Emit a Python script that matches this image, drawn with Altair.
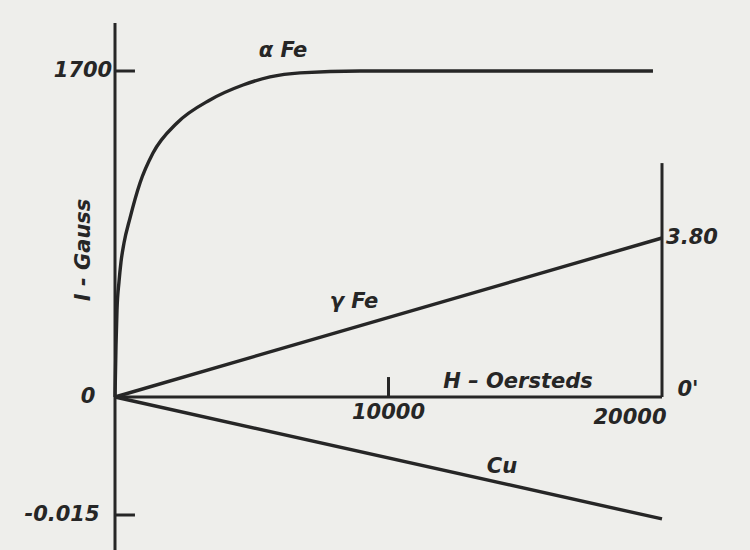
import altair as alt
import pandas as pd

# ---- data -------------------------------------------------------------
# alpha-iron magnetisation curve (I in gauss vs H in oersteds)
H_ALPHA = [0, 37, 73, 146, 219, 329, 548, 914, 1389, 2267, 3473, 4680, 5667, 6764, 8957, 19670]
I_ALPHA = [0, 271, 454, 600, 704, 803, 933, 1116, 1272, 1429, 1549, 1627, 1669, 1690, 1700, 1700]

# gamma-iron (paramagnetic, right-hand scale)
H_GAMMA = [0, 20000]
I_GAMMA = [0, 3.80]

# copper (diamagnetic, lower left scale)
H_CU = [0, 20000]
I_CU = [0, -0.0155]

# ---- layout of the three vertical scales -------------------------------
W, HT = 750, 550
ZERO_ROW = 397          # row of the common zero line
ORIGIN_COL = 115        # column of H = 0
H_FULL, H_FULL_COL = 20000, 662


def y_domain(value, row):
    per = value / (ZERO_ROW - row)
    return [-(HT - ZERO_ROW) * per, ZERO_ROW * per]


per_col = H_FULL / (H_FULL_COL - ORIGIN_COL)
X_DOM = [-ORIGIN_COL * per_col, (W - ORIGIN_COL) * per_col]

A_DOM = y_domain(1700, 71)
G_DOM = y_domain(3.80, 238)
C_DOM = y_domain(-0.015, 515)

INK = "#262626"
FONT = "DejaVu Sans"

xs = alt.Scale(domain=X_DOM, nice=False, zero=False)


def ys(dom):
    return alt.Scale(domain=dom, nice=False, zero=False)


def curve(h, v, dom, interp="linear"):
    df = pd.DataFrame({"H": h, "I": v})
    return alt.Chart(df).mark_line(
        color=INK, strokeWidth=3.4, interpolate=interp
    ).encode(
        x=alt.X("H:Q", scale=xs, axis=None),
        y=alt.Y("I:Q", scale=ys(dom), axis=None),
        order="H:Q",
    )


def rules(rows, dom, width=3):
    df = pd.DataFrame(rows, columns=["x", "x2", "y", "y2"])
    return alt.Chart(df).mark_rule(color=INK, strokeWidth=width).encode(
        x=alt.X("x:Q", scale=xs, axis=None),
        x2="x2:Q",
        y=alt.Y("y:Q", scale=ys(dom), axis=None),
        y2="y2:Q",
    )


def labels(rows, dom, size=21, angle=0):
    df = pd.DataFrame(rows, columns=["text", "x", "y"])
    return alt.Chart(df).mark_text(
        font=FONT, fontSize=size, fontStyle="italic", fontWeight="bold",
        color=INK, align="center", baseline="middle", angle=angle,
    ).encode(
        x=alt.X("x:Q", scale=xs, axis=None),
        y=alt.Y("y:Q", scale=ys(dom), axis=None),
        text="text:N",
    )


# axes, drawn in gauss units of the left scale
alpha_axes = rules([
    [0, 0, 1950, A_DOM[0]],          # left vertical axis
    [0, 20000, 0, 0],                # H axis
    [0, 730, 1700, 1700],            # 1700 tick
    [10000, 10000, 0, 104],          # 10000 tick
], A_DOM)

gamma_axes = rules([
    [20000, 20000, 0, 5.59],         # right-hand scale for gamma Fe
], G_DOM)

cu_axes = rules([
    [0, 730, -0.015, -0.015],        # -0.015 tick
], C_DOM)

alpha_text = labels([
    ["1700", -1170, 1700],
    ["0", -987, 0],
    ["\u03b1 Fe", 6143, 1804],
    ["H \u2013 Oersteds", 14735, 78],
    ["10000", 10000, -83],
    ["20000", 18830, -110],
    ["0'", 20950, 37],
], A_DOM)

axis_title = labels([["I  -  Gauss", -1133, 767]], A_DOM, angle=270)

gamma_text = labels([
    ["\u03b3 Fe", 8738, 2.27],
    ["3.80", 21097, 3.80],
], G_DOM)

cu_text = labels([
    ["Cu", 14150, -0.0089],
    ["-0.015", -1938, -0.015],
], C_DOM)

chart = alt.layer(
    alpha_axes, gamma_axes, cu_axes,
    curve(H_ALPHA, I_ALPHA, A_DOM, "monotone"),
    curve(H_GAMMA, I_GAMMA, G_DOM),
    curve(H_CU, I_CU, C_DOM),
    alpha_text, axis_title, gamma_text, cu_text,
).resolve_scale(y="independent").properties(
    width=W, height=HT,
    padding=0,
    autosize=alt.AutoSizeParams(type="none"),
    background="#eeeeeb",
).configure_view(stroke=None)

chart.save("out.html", embed_options={"renderer": "svg", "actions": False})
